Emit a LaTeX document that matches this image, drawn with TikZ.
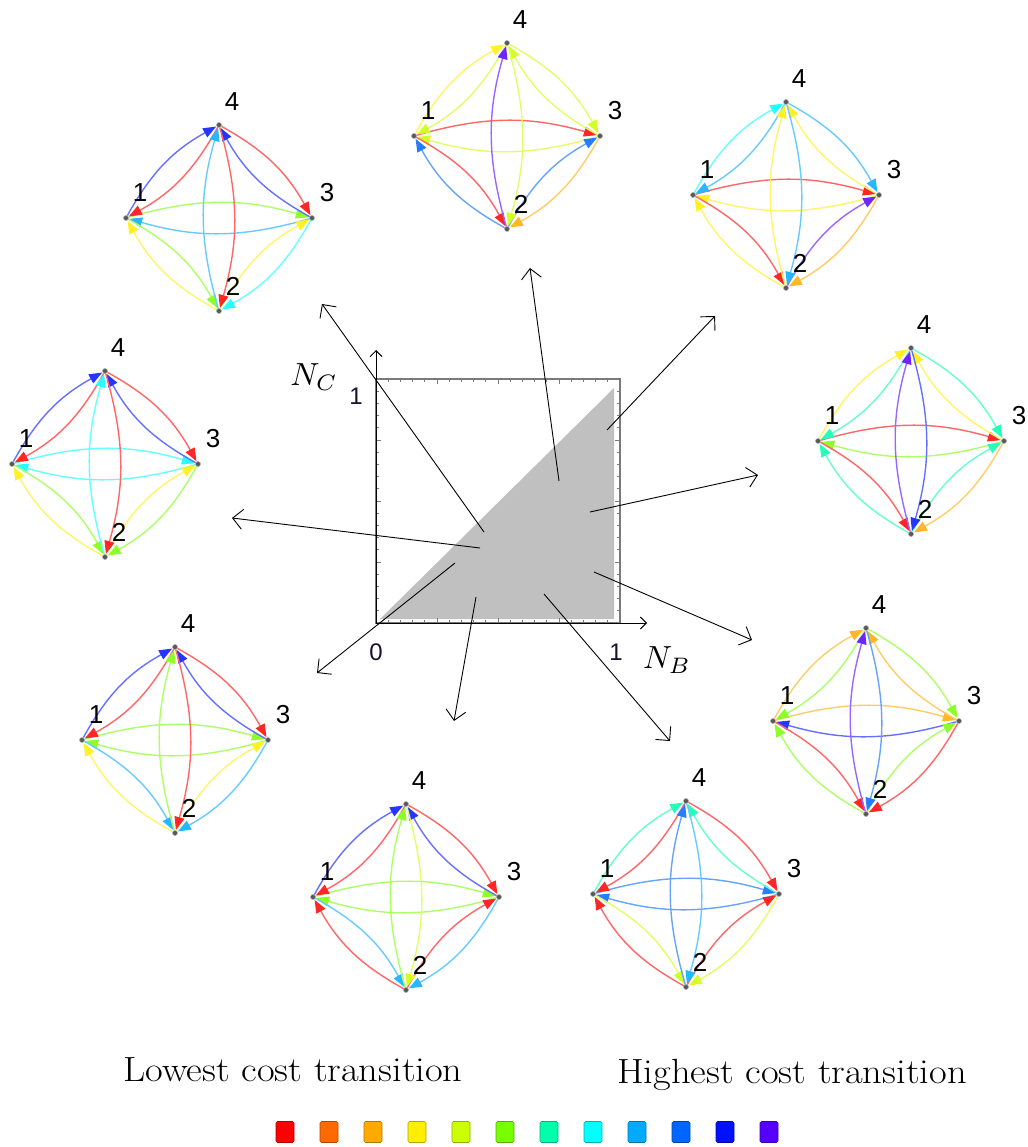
\documentclass[tikz,border=0pt]{standalone}
\usepackage{fontspec}
\newfontfamily\lab{Liberation Sans}
\usetikzlibrary{arrows.meta,calc}
\definecolor{c1}{HTML}{FF0000}
\definecolor{c2}{HTML}{FF6A00}
\definecolor{c3}{HTML}{FFAA00}
\definecolor{c4}{HTML}{FFEE00}
\definecolor{c5}{HTML}{CCFF00}
\definecolor{c6}{HTML}{77FF00}
\definecolor{c7}{HTML}{00FFAA}
\definecolor{c8}{HTML}{00FFFF}
\definecolor{c9}{HTML}{00AAFF}
\definecolor{c10}{HTML}{0066FF}
\definecolor{c11}{HTML}{0011FF}
\definecolor{c12}{HTML}{5500FF}
\definecolor{tri}{HTML}{C0C0C0}
\definecolor{framegray}{HTML}{7A7A7A}
\definecolor{ticklab}{HTML}{1A1030}
\pgfdeclarelayer{bg}
\pgfsetlayers{bg,main}
\tikzset{
  gdot/.style={circle,fill=black!65,draw=black!35,line width=0.5pt,inner sep=0pt,minimum size=5pt},
  glab/.style={font=\lab\fontsize{26}{26}\selectfont,inner sep=0pt},
  gedge/.style={draw=#1!60!white,line width=1.4pt,
    -{Triangle[length=13pt,width=10pt,color=#1!85!white]},shorten >=0.5pt},
  bigarrow/.style={draw=black,line width=0.9pt,-{Straight Barb[length=10pt,width=20pt]}},
  axisarrow/.style={draw=black,line width=0.9pt,-{Straight Barb[length=6pt,width=12pt]}},
  ticklabel/.style={font=\lab\fontsize{24}{24}\selectfont,text=ticklab,inner sep=0pt},
  axlab/.style={scale=3.2,inner sep=0pt},
  legtext/.style={font=\fontsize{35}{36}\selectfont,xscale=1.1,inner sep=0pt,anchor=base},
  legbox/.style={draw=#1!70!black,fill=#1,line width=0.6pt,rounded corners=1.5pt,
    minimum width=18pt,minimum height=21pt,inner sep=0pt}
}
\newcommand\placegraph[3]{%
  \node[gdot] (#1-1) at (#2-93,#3) {};
  \node[gdot] (#1-3) at (#2+93,#3) {};
  \node[gdot] (#1-4) at (#2,#3-93) {};
  \node[gdot] (#1-2) at (#2,#3+93) {};
  \node[glab] (#1-l1) at ($(#1-1)+(14,-25)$) {1};
  \node[glab] (#1-l3) at ($(#1-3)+(15,-25)$) {3};
  \node[glab] (#1-l4) at ($(#1-4)+(13,-23)$) {4};
  \node[glab] (#1-l2) at ($(#1-2)+(14,-25)$) {2};
}
\newcommand\graphedges[2]{%
  \begin{pgfonlayer}{bg}
  \foreach \s/\t/\c in {#2} {\draw[gedge=\c] (#1-\s) to[bend left=16] (#1-\t);}
  \end{pgfonlayer}
}
\begin{document}
\begin{tikzpicture}[x=1pt,y=-1pt]
\useasboundingbox (0,0) rectangle (1027,1147);

% ---- graphs ----
\placegraph{g1}{219}{218}
\graphedges{g1}{1/3/c6,3/1/c9,1/4/c11,4/1/c1,4/3/c1,3/4/c11,1/2/c6,2/1/c4,2/3/c4,3/2/c8,2/4/c9,4/2/c1}
\placegraph{g2}{507}{136}
\graphedges{g2}{1/3/c1,3/1/c5,1/4/c4,4/1/c5,4/3/c5,3/4/c5,1/2/c1,2/1/c10,2/3/c10,3/2/c3,2/4/c12,4/2/c5}
\placegraph{g3}{786}{195}
\graphedges{g3}{1/3/c1,3/1/c4,1/4/c8,4/1/c9,4/3/c9,3/4/c4,1/2/c1,2/1/c4,2/3/c12,3/2/c3,2/4/c4,4/2/c9}
\placegraph{g4}{105}{464}
\graphedges{g4}{1/3/c8,3/1/c8,1/4/c11,4/1/c1,4/3/c1,3/4/c11,1/2/c6,2/1/c4,2/3/c4,3/2/c6,2/4/c8,4/2/c1}
\placegraph{g5}{911}{441}
\graphedges{g5}{1/3/c1,3/1/c6,1/4/c4,4/1/c7,4/3/c7,3/4/c4,1/2/c1,2/1/c7,2/3/c7,3/2/c3,2/4/c12,4/2/c11}
\placegraph{g6}{175}{740}
\graphedges{g6}{1/3/c6,3/1/c6,1/4/c11,4/1/c1,4/3/c1,3/4/c11,1/2/c9,2/1/c4,2/3/c4,3/2/c9,2/4/c6,4/2/c1}
\placegraph{g7}{866}{721}
\graphedges{g7}{1/3/c3,3/1/c11,1/4/c3,4/1/c6,4/3/c6,3/4/c3,1/2/c1,2/1/c6,2/3/c6,3/2/c1,2/4/c12,4/2/c10}
\placegraph{g8}{406}{897}
\graphedges{g8}{1/3/c6,3/1/c6,1/4/c11,4/1/c1,4/3/c1,3/4/c11,1/2/c9,2/1/c1,2/3/c1,3/2/c9,2/4/c6,4/2/c5}
\placegraph{g9}{686}{894}
\graphedges{g9}{1/3/c10,3/1/c10,1/4/c7,4/1/c1,4/3/c1,3/4/c7,1/2/c5,2/1/c1,2/3/c1,3/2/c5,2/4/c10,4/2/c9}

% ---- central square ----
\fill[tri] (380,619) -- (614,388) -- (614,619) -- cycle;
\draw[framegray,line width=1.2pt] (376,379) rectangle (620,623);
\foreach \i in {1,...,19} {
  \pgfmathsetmacro\tl{ifthenelse(mod(\i,5)==0,5,3)}
  \draw[framegray,line width=0.7pt] (376+\i*12.2,623) -- ++(0,-\tl);
  \draw[framegray,line width=0.7pt] (376+\i*12.2,379) -- ++(0,\tl);
  \draw[framegray,line width=0.7pt] (376,623-\i*12.2) -- ++(\tl,0);
  \draw[framegray,line width=0.7pt] (620,623-\i*12.2) -- ++(-\tl,0);
}
\coordinate (o) at (376,623);
\coordinate (ytip) at (376,350);
\coordinate (xtip) at (647,623);
\draw[axisarrow] (o) -- (ytip);
\draw[axisarrow] (o) -- (xtip);
\node[axlab] (nc) at (314,377) {$N_C$};
\node[axlab] (nb) at (667,660) {$N_B$};
\node[ticklabel] (t1y) at (356,396) {1};
\node[ticklabel] (t0) at (376,652) {0};
\node[ticklabel] (t1x) at (616,652) {1};

% arrows from parameter regions to graphs
\coordinate (s1) at (484,532); \coordinate (e1) at (322,304);
\coordinate (s2) at (559,481); \coordinate (e2) at (530,268);
\coordinate (s3) at (607,430); \coordinate (e3) at (715,316);
\coordinate (s4) at (590,512); \coordinate (e4) at (758,475);
\coordinate (s5) at (594,572); \coordinate (e5) at (752,640);
\coordinate (s6) at (544,594); \coordinate (e6) at (670,741);
\coordinate (s7) at (476,597); \coordinate (e7) at (454,721);
\coordinate (s8) at (455,563); \coordinate (e8) at (317,673);
\coordinate (s9) at (480,548); \coordinate (e9) at (232,518);
\foreach \k in {1,...,9} {\draw[bigarrow] (s\k) -- (e\k);}

% ---- legend ----
\node[legtext] (low) at (293,1081) {Lowest cost transition};
\node[legtext] (high) at (792,1083) {Highest cost transition};
\foreach \k in {1,...,12} {
  \node[legbox=c\k] (leg\k) at (285+44*\k-44,1132) {};
}
\end{tikzpicture}
\end{document}
